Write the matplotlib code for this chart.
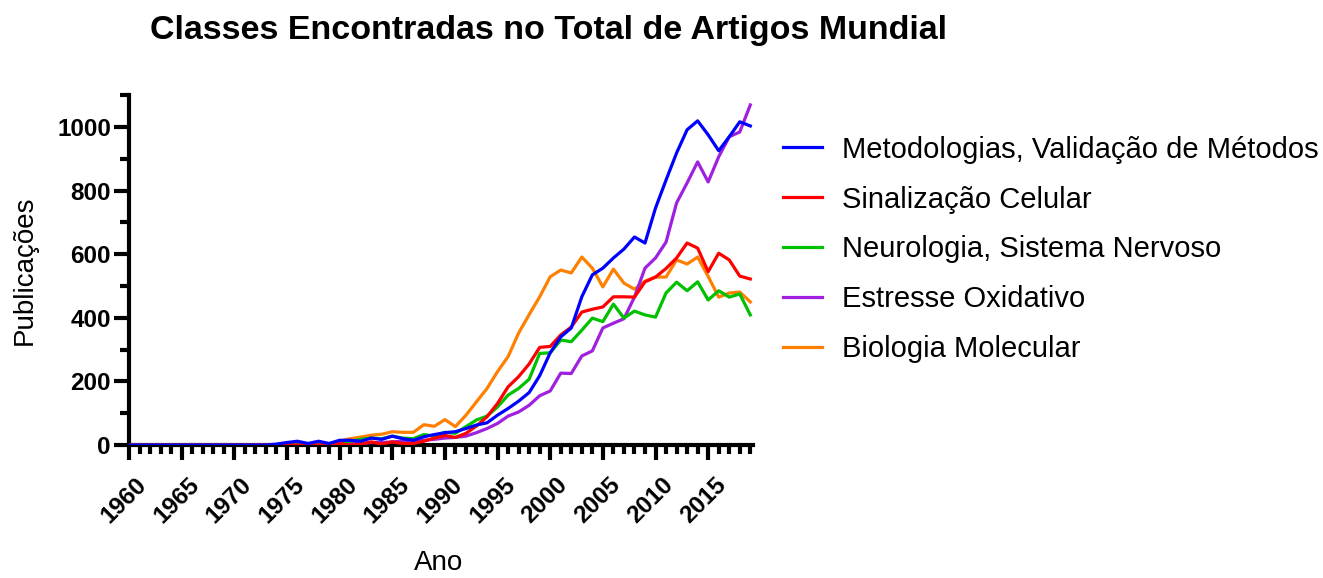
import matplotlib
matplotlib.use("Agg")
import matplotlib.pyplot as plt
import numpy as np
from matplotlib.ticker import MultipleLocator
from matplotlib.transforms import ScaledTranslation

plt.rcParams['font.family'] = ['Liberation Sans', 'DejaVu Sans']

anos = np.arange(1960, 2020)

# valores (1960-2019)
metodologias = [0]*14 + [3, 8, 12, 5, 12, 5, 15, 15, 12, 22, 18, 28, 20, 15, 26, 33,
                         39, 42, 52, 63, 70, 94, 115, 138, 165, 218,
                         290, 340, 368, 466, 535, 556, 588, 616, 654, 635,
                         745, 833, 918, 991, 1019, 975, 925, 969, 1016, 1003]
sinalizacao = [0]*20 + [5, 0, 3, 10, 3, 10, 5, 5, 12, 22,
                        30, 24, 37, 60, 89, 131, 183, 215, 255, 307,
                        310, 346, 371, 418, 427, 434, 466, 466, 465, 513,
                        528, 555, 588, 635, 619, 545, 603, 582, 531, 522]
neurologia = [0]*19 + [3, 8, 12, 18, 22, 20, 28, 22, 20, 33, 28,
                       40, 37, 58, 79, 91, 120, 157, 178, 207, 288,
                       290, 330, 325, 361, 399, 388, 443, 399, 421, 409,
                       402, 478, 512, 485, 513, 456, 485, 465, 475, 409]
estresse = [0]*20 + [3, 5, 5, 8, 8, 10, 12, 10, 15, 18,
                     22, 24, 28, 39, 52, 68, 91, 104, 125, 155,
                     170, 226, 225, 280, 296, 368, 383, 397, 465, 556,
                     588, 638, 761, 824, 890, 827, 906, 969, 984, 1069]
biologia = [0]*20 + [12, 20, 25, 31, 34, 42, 40, 40, 64, 59,
                     80, 58, 94, 136, 178, 231, 278, 352, 410, 466,
                     529, 550, 541, 591, 556, 497, 553, 509, 490, 515,
                     528, 528, 582, 569, 591, 530, 465, 478, 481, 450]

series = [
    ("Metodologias, Validação de Métodos", metodologias, "#0000FF"),
    ("Sinalização Celular", sinalizacao, "#FF0000"),
    ("Neurologia, Sistema Nervoso", neurologia, "#00C000"),
    ("Estresse Oxidativo", estresse, "#A020E0"),
    ("Biologia Molecular", biologia, "#FF8000"),
]

fig = plt.figure(figsize=(13.23, 5.78), dpi=100)
ax = fig.add_axes([0.0975, 0.230, 0.472, 0.6055])

handles = []
for i, (nome, vals, cor) in enumerate(series):
    h, = ax.plot(anos, vals, color=cor, linewidth=2.3, label=nome, zorder=10 - i)
    handles.append(h)

ax.set_xlim(1960, 2019.3)
ax.set_ylim(0, 1100)

# eixos estilo prism
for s in ['top', 'right']:
    ax.spines[s].set_visible(False)
for s in ['left', 'bottom']:
    ax.spines[s].set_linewidth(3)

ax.xaxis.set_major_locator(MultipleLocator(5))
ax.xaxis.set_minor_locator(MultipleLocator(1))
ax.yaxis.set_major_locator(MultipleLocator(200))
ax.yaxis.set_minor_locator(MultipleLocator(100))
ax.tick_params(axis='both', which='major', length=11, width=3, labelsize=17.5, pad=2)
ax.tick_params(axis='both', which='minor', length=6.5, width=3)
ax.tick_params(axis='x', which='major', pad=15)

# rotulos do eixo x rodados e um pouco deslocados para a direita
desloc = ScaledTranslation(14/100, 0, fig.dpi_scale_trans)
for lab in ax.get_xticklabels():
    lab.set_rotation(45)
    lab.set_ha('right')
    lab.set_va('center')
    lab.set_rotation_mode('anchor')
    lab.set_fontweight('bold')
    lab.set_transform(lab.get_transform() + desloc)
for lab in ax.get_yticklabels():
    lab.set_fontweight('bold')

fig.text(439/1323, 1 - 563/578, "Ano", fontsize=20, ha='center', va='center')
fig.text(25/1323, 1 - 270/578, "Publicações", fontsize=20, rotation=90,
         ha='center', va='center')

fig.text(548/1323, 1 - 30/578, "Classes Encontradas no Total de Artigos Mundial",
         fontsize=24.5, fontweight='bold', ha='center', va='center')

fig.legend(handles=handles, loc='upper left', bbox_to_anchor=(771/1323, 1 - 124/578),
           frameon=False, fontsize=21, handlelength=1.35, handletextpad=0.7,
           labelspacing=0.75, borderaxespad=0)

fig.savefig("out.png", dpi=100)
